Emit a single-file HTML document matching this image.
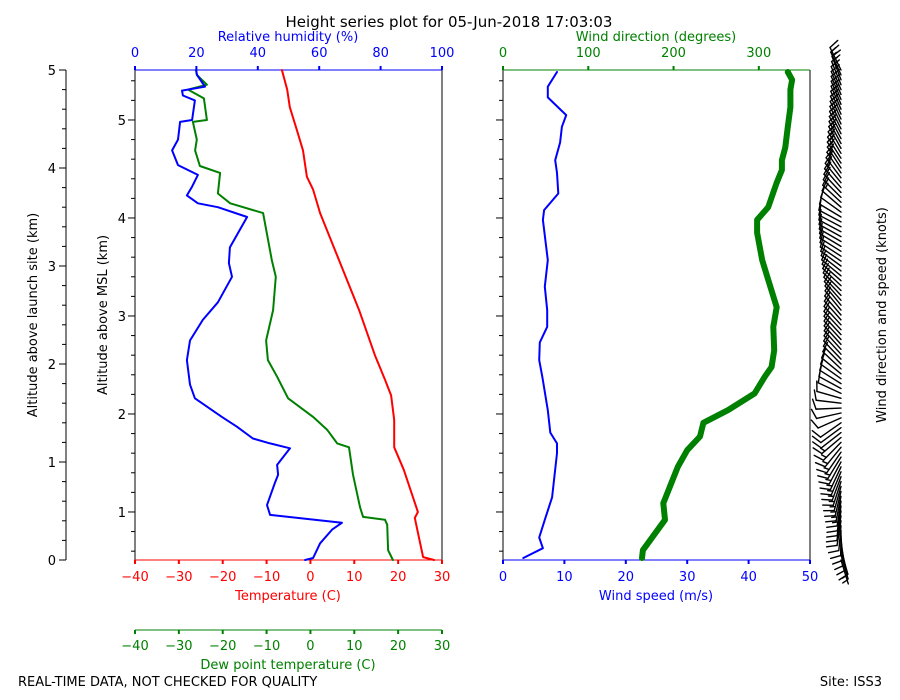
<!DOCTYPE html>
<html><head><meta charset="utf-8">
<style>
body{margin:0;background:#fff;}
svg{display:block;font-family:"DejaVu Sans","Liberation Sans",sans-serif;}
</style></head>
<body>
<svg id="chart" width="900" height="700" viewBox="0 0 900 700" xmlns="http://www.w3.org/2000/svg">
<text x="449" y="27" font-size="15" text-anchor="middle">Height series plot for 05-Jun-2018 17:03:03</text>
<text x="18" y="686" font-size="13">REAL-TIME DATA, NOT CHECKED FOR QUALITY</text>
<text x="882" y="686" font-size="13" text-anchor="end">Site: ISS3</text>
<g id="g"></g>
</svg>
<script>
// ---- Thermo data (heights in km above launch site) ----
const tempHeights = [0,0.03,0.43,0.49,0.92,1.15,1.43,1.68,1.84,2.09,2.55,3.54,3.78,3.91,4.18,4.39,4.62,4.80,5.0];
const tempValues  = [28.2,25.7,23.8,24.5,21.3,19.1,19.1,18.4,17.0,14.7,11.1,2.2,0.6,-0.8,-1.7,-3.1,-4.7,-5.3,-6.5];
const dewHeights = [0,0.10,0.36,0.41,0.44,0.54,0.87,1.15,1.19,1.33,1.46,1.65,1.87,2.04,2.24,2.55,2.89,3.06,3.54,3.64,3.74,3.95,4.02,4.18,4.29,4.47,4.49,4.71,4.80,4.85,4.95,5.0];
const dewValues  = [18.8,17.7,17.5,17.0,12.0,11.3,9.7,8.8,6.1,3.8,0.6,-5.1,-7.6,-9.7,-10.1,-8.5,-7.9,-8.8,-10.8,-18.3,-21.1,-20.6,-25.2,-26.3,-25.9,-26.8,-23.6,-24.3,-27.9,-23.6,-25.9,-26.1];
const rhHeights = [0,0.02,0.17,0.31,0.38,0.46,0.56,0.79,0.87,0.97,1.14,1.19,1.24,1.36,1.46,1.65,1.79,2.04,2.24,2.45,2.63,2.89,3.03,3.19,3.50,3.60,3.64,3.72,3.81,3.93,4.03,4.18,4.29,4.47,4.49,4.69,4.74,4.79,4.83,4.95,5.0];
const rhValues  = [55.4,58.0,60.3,64.2,67.4,44.0,43.0,45.6,46.6,46.3,50.5,44.0,38.4,33.2,28.3,19.5,17.9,16.9,17.9,22.1,27.0,31.6,30.6,30.9,36.5,27.0,20.5,16.9,18.6,20.5,14.0,12.1,14.0,14.7,18.6,19.5,15.6,15.3,22.8,20.2,19.9];
// ---- Wind data ----
const wsHeights = [0.02,0.12,0.23,0.41,0.64,1.09,1.19,1.30,1.53,1.87,2.04,2.22,2.38,2.55,2.79,3.06,3.47,3.57,3.74,3.95,4.08,4.26,4.42,4.54,4.72,4.83,4.98];
const wsValues  = [3.3,6.5,5.9,6.8,8.0,8.8,8.8,7.7,7.3,6.4,5.9,6.0,7.2,7.2,6.8,7.3,6.5,6.7,9.0,8.8,8.5,9.3,9.6,10.3,7.3,7.3,8.8];
const wdHeights = [0.02,0.10,0.41,0.58,0.95,1.12,1.26,1.40,1.53,1.70,1.87,1.97,2.14,2.38,2.58,2.86,3.06,3.34,3.47,3.60,3.85,3.98,4.08,4.21,4.42,4.62,4.80,4.90,4.98];
const wdValues  = [163,164,190,188,205,216,231,235,264,295,307,315,318,317,321,311,304,298,298,311,321,327,327,331,334,337,337,339,334];
const tempTicks = [-40,-30,-20,-10,0,10,20,30];
const rhTicks = [0,20,40,60,80,100];
const wsTicks = [0,10,20,30,40,50];
const wdTicks = [0,100,200,300];
const kmTicks = [0,1,2,3,4,5];
const mslTicks = [1,2,3,4,5];
const siteElev = 0.51;

const NS='http://www.w3.org/2000/svg';
const G=document.getElementById('g');
function mk(tag,attrs,parent){const e=document.createElementNS(NS,tag);for(const k in attrs)e.setAttribute(k,attrs[k]);(parent||G).appendChild(e);return e;}
const yH=h=>560-h*98;
const xT=t=>135+(t+40)*307/70;
const xRH=r=>135+r*3.07;
const xWS=s=>503+s*6.14;
const xWD=d=>503+d*307/360;

function line(x1,y1,x2,y2,c,w){return mk('line',{x1,y1,x2,y2,stroke:c,'stroke-width':w||1});}
function txt(x,y,s,c,anchor,size){const t=mk('text',{x,y,fill:c||'#000','font-size':size||13,'text-anchor':anchor||'middle'});t.textContent=s;return t;}

// outer launch-site axis
let e=line(66,70,66,560,'#000');


for(let k=0;k<=25;k++){const y=yH(k*0.2);line(66,y,k%5===0?59:62,y,'#000');}
kmTicks.forEach(v=>{const t=txt(56,yH(v)+5,String(v),'#000','end');});
e=txt(0,0,'Altitude above launch site (km)','#000','middle');
e.setAttribute('transform','translate(37,315) rotate(-90)');



// inner MSL axis on left plot
for(let k=0;k<=27;k++){const m=0.6+k*0.2;const y=yH(m-siteElev);if(y<69||y>561)continue;const maj=Math.abs(m-Math.round(m))<0.01;line(135,y,maj?128:131,y,'#000');}
mslTicks.forEach(v=>{const t=txt(126,yH(v-siteElev)+5,String(v),'#000','end');});
e=txt(0,0,'Altitude above MSL (km)','#000','middle');
e.setAttribute('transform','translate(107,315) rotate(-90)');



// left plot frame
line(135,70,135,560,'#000');line(442,70,442,560,'#000');
line(135,70,442,70,'#0000ff');line(135,560,442,560,'#ff0000');
tempTicks.forEach(v=>{const x=xT(v);line(x,560,x,564,'#ff0000',2);const t=txt(x,581,String(v).replace('-','\u2212'),'#ff0000');});
e=txt(288,600,'Temperature (C)','#ff0000');
rhTicks.forEach(v=>{const x=xRH(v);line(x,70,x,66,'#0000ff',2);const t=txt(x,57,String(v),'#0000ff');});
e=txt(288,41,'Relative humidity (%)','#0000ff');
// dew point axis
line(135,630,442,630,'#008000');
tempTicks.forEach(v=>{const x=xT(v);line(x,630,x,634,'#008000',2);const t=txt(x,650,String(v).replace('-','\u2212'),'#008000');});
e=txt(288,669,'Dew point temperature (C)','#008000');

function series(hs,vs,fx,color,w,name){
  const d=hs.map((h,i)=>(i?'L':'M')+fx(vs[i]).toFixed(1)+','+yH(h).toFixed(1)).join(' ');
  const p=mk('path',{d,fill:'none',stroke:color,'stroke-width':w,'stroke-linejoin':'round','stroke-linecap':'round'});
  
  
}
series(tempHeights,tempValues,xT,'#ff0000',2,'temperature-line');
series(dewHeights,dewValues,xT,'#008000',2,'dewpoint-line');
series(rhHeights,rhValues,xRH,'#0000ff',2,'relative-humidity-line');

// right plot
line(503,70,503,560,'#000');line(810,70,810,560,'#000');
line(503,70,810,70,'#008000');line(503,560,810,560,'#0000ff');
for(let k=0;k<=27;k++){const m=0.6+k*0.2;const y=yH(m-siteElev);if(y<69||y>561)continue;const maj=Math.abs(m-Math.round(m))<0.01;line(503,y,maj?496:499,y,'#000');}
wsTicks.forEach(v=>{const x=xWS(v);line(x,560,x,564,'#0000ff',2);const t=txt(x,581,String(v),'#0000ff');});
e=txt(656,600,'Wind speed (m/s)','#0000ff');
wdTicks.forEach(v=>{const x=xWD(v);line(x,70,x,66,'#008000',2);const t=txt(x,57,String(v),'#008000');});
e=txt(656,41,'Wind direction (degrees)','#008000');
series(wdHeights,wdValues,xWD,'#008000',6,'wind-direction-line');
series(wsHeights,wsValues,xWS,'#0000ff',2,'wind-speed-line');

// wind barbs (sampled from the wind arrays)
function interp(hs,vs,h){if(h<=hs[0])return vs[0];for(let k=1;k<hs.length;k++){if(h<=hs[k]){const f=(h-hs[k-1])/(hs[k]-hs[k-1]);return vs[k-1]+f*(vs[k]-vs[k-1]);}}return vs[vs.length-1];}
const bg=mk('g',{stroke:'#000','stroke-width':1.4,fill:'none','stroke-linecap':'round'});


for(let h=0.0;h<=5.001;h+=0.05){
  const dir=interp(wdHeights,wdValues,h)*Math.PI/180, kt=interp(wsHeights,wsValues,h)*1.944;
  const bx=841,by=yH(h),L=25;
  const vx=Math.sin(dir),vy=-Math.cos(dir);
  const tx=bx+vx*L,ty=by+vy*L;
  const b=mk('line',{x1:bx,y1:by,x2:tx,y2:ty},bg);
  
  
  const px=-vy,py=vx;
  let full=Math.floor(kt/10),half=(kt%10)>=5?1:0,pos=0;
  for(let f=0;f<full;f++){const sx=tx-vx*pos,sy=ty-vy*pos;mk('line',{x1:sx,y1:sy,x2:sx+px*10+vx*3,y2:sy+py*10+vy*3},bg);pos+=4;}
  if(half){if(full===0)pos=4;const sx=tx-vx*pos,sy=ty-vy*pos;mk('line',{x1:sx,y1:sy,x2:sx+px*5+vx*1.5,y2:sy+py*5+vy*1.5},bg);}
}
e=txt(0,0,'Wind direction and speed (knots)','#000','middle');
e.setAttribute('transform','translate(886,315) rotate(-90)');


</script>
</body></html>
